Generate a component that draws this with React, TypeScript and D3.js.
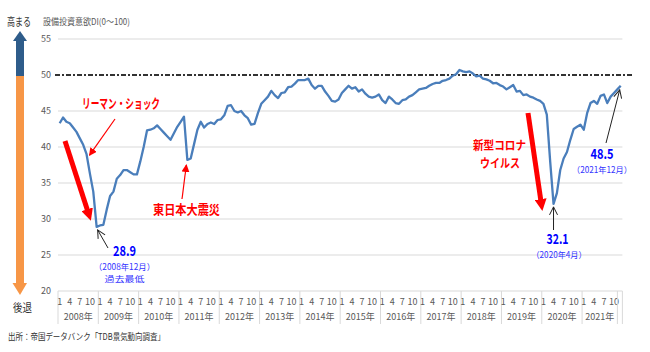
import * as d3 from 'd3';

// 設備投資意欲DI, monthly values (Jan..Dec)
const di2008 = [43.3, 44.1, 43.5, 43.3, 42.7, 42.1, 41.2, 40.3, 39.0, 36.3, 33.8, 28.9];
const di2009 = [29.1, 29.2, 31.3, 33.2, 33.8, 35.6, 36.1, 36.8, 36.8, 36.5, 36.2, 36.2];
const di2010 = [38.0, 40.0, 42.3, 42.4, 42.6, 43.0, 42.5, 42.0, 41.5, 41.0, 41.9, 42.8];
const di2011 = [43.5, 44.2, 38.2, 38.4, 40.4, 42.4, 43.5, 42.7, 43.2, 43.4, 43.2, 43.75];
const di2012 = [43.85, 44.4, 45.7, 45.8, 45.0, 44.8, 45.0, 44.4, 44.0, 43.1, 43.2, 44.7];
const di2013 = [46.0, 46.5, 47.0, 47.8, 47.2, 46.8, 47.5, 47.6, 48.3, 48.4, 48.8, 49.3];
const di2014 = [49.3, 49.3, 49.5, 48.6, 48.1, 48.5, 48.5, 47.7, 47.1, 46.4, 46.3, 46.6];
const di2015 = [47.5, 48.0, 48.5, 48.1, 48.3, 47.7, 48.0, 47.4, 47.0, 46.85, 47.0, 47.3];
const di2016 = [46.5, 46.1, 47.0, 46.6, 46.1, 46.0, 46.5, 46.6, 47.0, 47.2, 47.6, 48.0];
const di2017 = [48.1, 48.2, 48.5, 48.75, 48.9, 48.9, 49.2, 49.3, 49.5, 49.9, 50.1, 50.7];
const di2018 = [50.5, 50.4, 50.5, 50.2, 49.8, 49.9, 49.5, 49.4, 49.2, 48.85, 48.9, 48.6];
const di2019 = [48.4, 48.0, 48.3, 48.6, 47.7, 47.8, 47.2, 47.3, 47.0, 46.85, 46.6, 46.4];
const di2020 = [46.0, 44.5, 38.0, 32.1, 33.6, 36.8, 38.4, 39.3, 41.0, 42.5, 42.8, 43.1];
const di2021 = [42.4, 44.7, 46.1, 46.4, 46.0, 47.1, 47.3, 46.1, 47.0, 47.5, 48.0, 48.5];

const years = [2008, 2009, 2010, 2011, 2012, 2013, 2014, 2015, 2016, 2017, 2018, 2019, 2020, 2021];
const monthTicks = [1, 4, 7, 10];
const yTicks = [20, 25, 30, 35, 40, 45, 50, 55];

const values = [
  ...di2008, ...di2009, ...di2010, ...di2011, ...di2012, ...di2013, ...di2014,
  ...di2015, ...di2016, ...di2017, ...di2018, ...di2019, ...di2020, ...di2021,
];

const W = 650;
const H = 352;
const FONT = '"Noto Sans CJK JP", "Noto Sans", sans-serif';
const GRAY = '#595959';
const RED = '#ff0000';
const BLUE = '#0000ff';
const LBLUE = '#3333ff';

// squeezed text, the original uses a narrow proportional font
const Fit = ({ x, y, w, size, fill, bold, anchor = 'start', children }: any) => (
  <text x={x} y={y} fontSize={size} fill={fill} fontWeight={bold ? 'bold' : 'normal'}
    textAnchor={anchor} textLength={w} lengthAdjust="spacingAndGlyphs">{children}</text>
);

export default function App() {
  const x = d3.scaleBand<number>()
    .domain(d3.range(values.length))
    .range([58, 622.4]);
  const bw = x.bandwidth();
  const cx = (i: number) => (x(i) as number) + bw / 2;
  const y = d3.scaleLinear().domain([20, 55]).range([291, 39]);

  const line = d3.line<number>()
    .x((_, i) => cx(i))
    .y(d => y(d));

  const xLeft = x.range()[0];
  const xRight = x.range()[1];

  const iLehman = 11;
  const iQuake = 38;
  const iCovid = 147;
  const iLast = values.length - 1;

  return (
    <svg width={W} height={H} style={{ display: 'block', position: 'absolute', left: 0, top: 0 }}
      fontFamily={FONT}>
      <defs>
        <marker id="redHead" markerUnits="userSpaceOnUse" markerWidth="8" markerHeight="8"
          refX="7" refY="4" orient="auto">
          <path d="M0,0 L8,4 L0,8 Z" fill={RED} />
        </marker>
        <marker id="bigRedHead" markerUnits="userSpaceOnUse" markerWidth="12" markerHeight="12"
          refX="6" refY="6" orient="auto">
          <path d="M0,0 L12,6 L0,12 Z" fill={RED} />
        </marker>
        <marker id="blackHead" markerUnits="userSpaceOnUse" markerWidth="10" markerHeight="10"
          refX="9" refY="5" orient="auto">
          <path d="M1,1 L9,5 L1,9" fill="none" stroke="#222" strokeWidth="1" />
        </marker>
      </defs>

      {/* left direction arrow */}
      <Fit x={7} y={26} w={24} size={11} fill="#333">高まる</Fit>
      <polygon points="13,41 20,31 27,41" fill="#2e5c8a" />
      <rect x={16} y={40} width={8} height={36} fill="#2e5c8a" />
      <rect x={16} y={76} width={8} height={208} fill="#f79646" />
      <polygon points="12.5,283 27,283 20,295" fill="#f79646" />
      <Fit x={13} y={312} w={19} size={11} fill="#333">後退</Fit>

      <Fit x={43} y={25} w={87} size={9} fill={GRAY}>設備投資意欲DI(0～100)</Fit>

      {/* grid + y ticks */}
      {yTicks.map(t => (
        <g key={t}>
          {t !== 50 && (
            <line x1={xLeft} x2={xRight} y1={y(t)} y2={y(t)} stroke="#d9d9d9" strokeWidth={1} />
          )}
          <text x={51} y={y(t) + 3} textAnchor="end" fontSize={9} fill={GRAY}>{t}</text>
        </g>
      ))}
      <line x1={55} x2={633} y1={y(50)} y2={y(50)} stroke="#333" strokeWidth={2}
        strokeDasharray="5,2,2,2" />

      {/* x axis box */}
      {years.map((yr, k) => {
        const x0 = x(k * 12) as number;
        const x1 = k === years.length - 1 ? xRight - 5 : (x((k + 1) * 12) as number);
        return (
          <g key={yr}>
            <line x1={x0} x2={x0} y1={291} y2={324} stroke="#d9d9d9" />
            {monthTicks.map(mt => (
              <text key={mt} x={cx(k * 12 + mt - 1)} y={305} textAnchor="middle" fontSize={9}
                fill={GRAY}>{mt}</text>
            ))}
            <text x={(x0 + x1) / 2} y={320} textAnchor="middle" fontSize={9} fill={GRAY}>{yr}年</text>
          </g>
        );
      })}
      <line x1={xRight - 5} x2={xRight - 5} y1={291} y2={324} stroke="#d9d9d9" />
      <line x1={xRight} x2={xRight} y1={291} y2={324} stroke="#d9d9d9" />

      {/* data line */}
      <path d={line(values) || ''} fill="none" stroke="#4a7ebb" strokeWidth={2.3}
        strokeLinejoin="round" />

      {/* リーマン・ショック */}
      <Fit x={82} y={108} w={78} size={13} bold fill={RED}>リーマン・ショック</Fit>
      <line x1={115} y1={119} x2={cx(iLehman - 3) + 3} y2={y(values[iLehman - 3]) + 1}
        stroke={RED} strokeWidth={1.2} markerEnd="url(#redHead)" />
      <line x1={65} y1={141} x2={89} y2={215} stroke={RED} strokeWidth={5}
        markerEnd="url(#bigRedHead)" />
      <line x1={108} y1={248} x2={cx(iLehman) + 1} y2={y(values[iLehman]) + 3}
        stroke="#222" strokeWidth={1} markerEnd="url(#blackHead)" />
      <Fit x={124.5} y={256} w={23} size={14} bold fill={BLUE} anchor="middle">
        {values[iLehman].toFixed(1)}
      </Fit>
      <Fit x={124.5} y={269.5} w={61} size={8.5} fill={LBLUE} anchor="middle">（2008年12月）</Fit>
      <Fit x={124.5} y={282} w={40} size={8.5} fill={LBLUE} anchor="middle">過去最低</Fit>

      {/* 東日本大震災 */}
      <line x1={182} y1={199} x2={cx(iQuake) - 1} y2={y(values[iQuake]) + 5}
        stroke={RED} strokeWidth={1.2} markerEnd="url(#redHead)" />
      <Fit x={153} y={214} w={67} size={13} bold fill={RED}>東日本大震災</Fit>

      {/* 新型コロナウイルス */}
      <Fit x={473} y={150} w={53} size={12} bold fill={RED}>新型コロナ</Fit>
      <Fit x={480} y={168} w={40} size={12} bold fill={RED}>ウイルス</Fit>
      <line x1={528} y1={113} x2={541.5} y2={205} stroke={RED} strokeWidth={5}
        markerEnd="url(#bigRedHead)" />
      <line x1={cx(iCovid)} y1={230} x2={cx(iCovid)} y2={y(values[iCovid]) + 3}
        stroke="#222" strokeWidth={1} markerEnd="url(#blackHead)" />
      <Fit x={557.5} y={244} w={22} size={14} bold fill={BLUE} anchor="middle">
        {values[iCovid].toFixed(1)}
      </Fit>
      <Fit x={559} y={258} w={55} size={8.5} fill={LBLUE} anchor="middle">（2020年4月）</Fit>

      {/* latest */}
      <line x1={606} y1={143} x2={cx(iLast) - 1} y2={y(values[iLast]) + 4}
        stroke="#222" strokeWidth={1} markerEnd="url(#blackHead)" />
      <Fit x={602} y={158.5} w={23} size={14} bold fill={BLUE} anchor="middle">
        {values[iLast].toFixed(1)}
      </Fit>
      <Fit x={602} y={172.5} w={60} size={8.5} fill={LBLUE} anchor="middle">（2021年12月）</Fit>

      <Fit x={8} y={340} w={157} size={9} fill="#333">出所：帝国データバンク「TDB景気動向調査」</Fit>
    </svg>
  );
}
